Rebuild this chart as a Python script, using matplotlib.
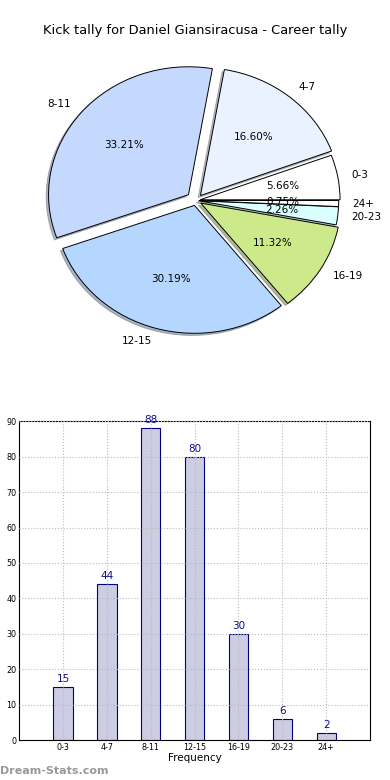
import matplotlib
matplotlib.use("Agg")
import matplotlib.pyplot as plt

# ---- data ---------------------------------------------------------------- #
categories = ["0-3", "4-7", "8-11", "12-15", "16-19", "20-23", "24+"]
counts = [15, 44, 88, 80, 30, 6, 2]
pie_colors = ["#ffffff", "#eaf1ff", "#c5d9ff", "#b5d6ff", "#cdea8a", "#d9ffff", "#ffffff"]
explode = [0.03, 0.05, 0.07, 0.04, 0.04, 0.02, 0.02]
title = "Kick tally for Daniel Giansiracusa - Career tally"

fig = plt.figure(figsize=(3.9, 7.8), dpi=100)

# ---- pie ----------------------------------------------------------------- #
ax1 = fig.add_axes([0.054, 0.538, 0.897, 0.41])
ax1.pie(counts, labels=categories, colors=pie_colors, explode=explode,
        autopct="%1.2f%%", startangle=0,
        shadow=dict(ox=-0.012, oy=-0.012, shade=0.5),
        wedgeprops=dict(edgecolor="black", linewidth=0.7),
        textprops=dict(fontsize=7.5))
ax1.set_aspect("auto")
ax1.set_xlim(-1.25, 1.25)
ax1.set_ylim(-1.25, 1.25)
fig.text(0.5, 0.961, title, ha="center", va="center", fontsize=9.4)

# ---- bar ----------------------------------------------------------------- #
ax2 = fig.add_axes([0.049, 0.051, 0.9, 0.409])
x = list(range(len(categories)))
ax2.bar(x, counts, width=0.44, color="#cccce2", edgecolor="#000080", linewidth=0.8,
        zorder=1)
for xi, c in zip(x, counts):
    ax2.text(xi, c + 0.8, str(c), ha="center", va="bottom", color="#10108a", fontsize=7.5)
ax2.set_xlim(-1, 7)
ax2.set_ylim(0, 90)
ax2.set_yticks(range(0, 91, 10))
ax2.set_xticks(x)
ax2.set_xticklabels(categories)
ax2.tick_params(labelsize=5.8, length=0, pad=2)
ax2.grid(True, linestyle=":", color="#bbbbbb", linewidth=0.8, zorder=3)
ax2.set_axisbelow(False)
ax2.set_xlabel("Frequency", fontsize=7.5, labelpad=1)
for s in ax2.spines.values():
    s.set_linewidth(0.8)

fig.text(0.0, 0.012, "Dream-Stats.com", color="#999999", fontsize=8,
         fontweight="bold", ha="left", va="center")

fig.savefig("out.png", dpi=100)
